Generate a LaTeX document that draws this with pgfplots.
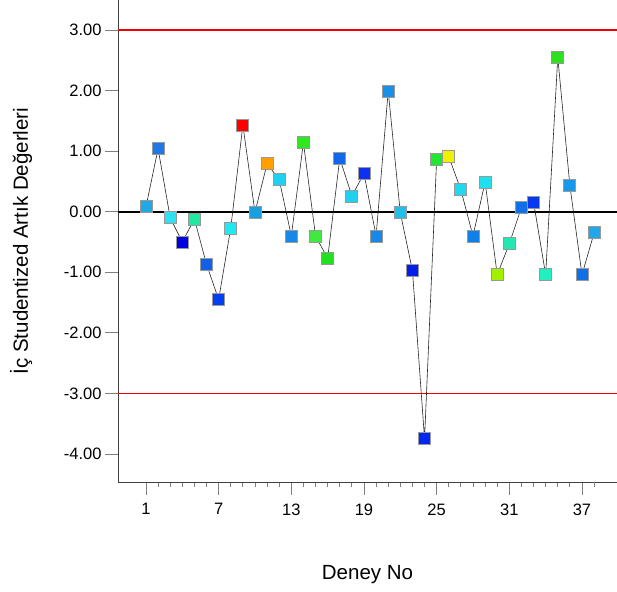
\documentclass[border=0pt]{standalone}
\usepackage{pgfplots}
\pgfplotsset{compat=1.18}
\usepackage{pgfplotstable}
\usepackage{fontspec}
\setmainfont{Liberation Sans}
\definecolor{refline}{HTML}{F00000}
\definecolor{p1}{HTML}{20A8E8}\definecolor{p2}{HTML}{1E78E8}\definecolor{p3}{HTML}{30E0F0}
\definecolor{p4}{HTML}{0000E0}\definecolor{p5}{HTML}{20E8A0}\definecolor{p6}{HTML}{1060E8}
\definecolor{p7}{HTML}{0040F0}\definecolor{p8}{HTML}{20E8F0}\definecolor{p9}{HTML}{FF0000}
\definecolor{p10}{HTML}{18A0E0}\definecolor{p11}{HTML}{FFA000}\definecolor{p12}{HTML}{20D0F0}
\definecolor{p13}{HTML}{1888E8}\definecolor{p14}{HTML}{30E820}\definecolor{p15}{HTML}{40E840}
\definecolor{p16}{HTML}{20E020}\definecolor{p17}{HTML}{1068E8}\definecolor{p18}{HTML}{20D0F0}
\definecolor{p19}{HTML}{1030F0}\definecolor{p20}{HTML}{1888E8}\definecolor{p21}{HTML}{1890E8}
\definecolor{p22}{HTML}{20C0E8}\definecolor{p23}{HTML}{0020E8}\definecolor{p24}{HTML}{0028F0}
\definecolor{p25}{HTML}{20E830}\definecolor{p26}{HTML}{F0F000}\definecolor{p27}{HTML}{20D8F0}
\definecolor{p28}{HTML}{1080E8}\definecolor{p29}{HTML}{20E0F0}\definecolor{p30}{HTML}{A0F000}
\definecolor{p31}{HTML}{20E8B0}\definecolor{p32}{HTML}{1070E8}\definecolor{p33}{HTML}{0838F0}
\definecolor{p34}{HTML}{20F0C0}\definecolor{p35}{HTML}{30E020}\definecolor{p36}{HTML}{1898E8}
\definecolor{p37}{HTML}{1070E8}\definecolor{p38}{HTML}{20A8E8}
\tikzset{pm/.style={mark=square*, draw=black!40, line width=0.8pt, fill=#1}}

\pgfplotstableread{
x y c
1 0.08 p1
2 1.04 p2
3 -0.10 p3
4 -0.50 p4
5 -0.12 p5
6 -0.87 p6
7 -1.45 p7
8 -0.27 p8
9 1.43 p9
10 -0.01 p10
11 0.79 p11
12 0.53 p12
13 -0.40 p13
14 1.14 p14
15 -0.40 p15
16 -0.77 p16
17 0.88 p17
18 0.26 p18
19 0.63 p19
20 -0.40 p20
21 1.99 p21
22 -0.02 p22
23 -0.97 p23
24 -3.75 p24
25 0.87 p25
26 0.91 p26
27 0.36 p27
28 -0.40 p28
29 0.49 p29
30 -1.04 p30
31 -0.53 p31
32 0.07 p32
33 0.16 p33
34 -1.04 p34
35 2.55 p35
36 0.43 p36
37 -1.04 p37
38 -0.35 p38
}\resid

\begin{document}
\begin{tikzpicture}
\begin{axis}[
  scale only axis, width=499pt, height=482pt,
  xmin=-1.31, xmax=39.89, ymin=-4.463, ymax=3.495,
  axis lines*=left,
  axis line style={black!75, line width=0.8pt},
  tick align=outside,
  major tick length=13pt, minor tick length=5pt,
  tick style={black!50, line width=0.8pt},
  xtick={1,7,...,37}, minor x tick num=5,
  extra x ticks={38}, extra x tick labels={},
  extra x tick style={major tick length=5pt},
  ytick={-4,-3,...,3},
  yticklabel style={/pgf/number format/.cd, fixed, fixed zerofill, precision=2},
  /pgf/number format/assume math mode=true,
  tick label style={font=\fontsize{16.5}{19}\selectfont},
  xticklabel style={yshift=-5pt},
  xlabel={Deney No},
  ylabel={İç Studentized Artık Değerleri},
  label style={font=\fontsize{20.5}{24}\selectfont},
  xlabel style={at={(axis description cs:0.5,-0.2033)}, anchor=base},
  ylabel style={at={(axis description cs:-0.194,0.5)}, anchor=center},
]
\coordinate (sw) at (rel axis cs:0,0);
\coordinate (ne) at (rel axis cs:1,1);
\addplot[draw=refline, line width=1.5pt] coordinates {(-1.31,3) (39.89,3)};
\addplot[draw=refline, line width=1.5pt] coordinates {(-1.31,-3) (39.89,-3)};
\addplot[draw=black, line width=2pt] coordinates {(-1.31,0) (39.89,0)};
\addplot[
  scatter, only marks, mark=square*, mark size=6pt,
  point meta=explicit symbolic,
  scatter/classes={
    p1={pm=p1}, p2={pm=p2}, p3={pm=p3}, p4={pm=p4}, p5={pm=p5}, p6={pm=p6},
    p7={pm=p7}, p8={pm=p8}, p9={pm=p9}, p10={pm=p10}, p11={pm=p11}, p12={pm=p12},
    p13={pm=p13}, p14={pm=p14}, p15={pm=p15}, p16={pm=p16}, p17={pm=p17}, p18={pm=p18},
    p19={pm=p19}, p20={pm=p20}, p21={pm=p21}, p22={pm=p22}, p23={pm=p23}, p24={pm=p24},
    p25={pm=p25}, p26={pm=p26}, p27={pm=p27}, p28={pm=p28}, p29={pm=p29}, p30={pm=p30},
    p31={pm=p31}, p32={pm=p32}, p33={pm=p33}, p34={pm=p34}, p35={pm=p35}, p36={pm=p36},
    p37={pm=p37}, p38={pm=p38}},
] table[x=x, y=y, meta=c] {\resid};
\addplot[black!85, line width=0.6pt, no marks] table[x=x, y=y] {\resid};
\end{axis}
\pgfresetboundingbox
\path (sw) ++(-118pt,-110pt) rectangle (ne);
\end{tikzpicture}
\end{document}
